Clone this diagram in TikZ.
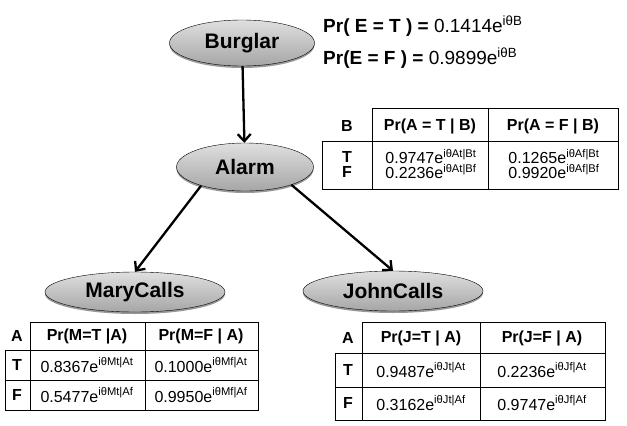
\documentclass[tikz,border=0pt]{standalone}
\usepackage{fontspec}
\setmainfont{Liberation Sans}
\usetikzlibrary{arrows.meta,shapes.geometric,shadows}

\newcommand{\phase}[2]{#1e\textsuperscript{#2}}

\tikzset{
  bnode/.style={ellipse,draw,thin,inner sep=0pt,top color=gray!25,bottom color=gray!70,
    drop shadow={shadow xshift=0pt,shadow yshift=-2pt,fill=black!80},
    font=\fontsize{21}{24}\selectfont\bfseries},
  link/.style={-{Straight Barb[length=7pt,width=13pt]},line width=2.3pt},
  tbl/.style={line width=0.9pt},
  hd/.style={font=\fontsize{16}{19}\selectfont\bfseries},
  val/.style={font=\fontsize{16}{19}\selectfont},
}

\begin{document}
\begin{tikzpicture}[x=1pt,y=-1pt]
  \useasboundingbox (0,0) rectangle (627,426);

  % network
  \node[bnode,minimum width=145,minimum height=46] (burglar) at (242,43) {Burglar};
  \node[bnode,minimum width=137,minimum height=48] (alarm) at (245,167) {Alarm};
  \node[bnode,minimum width=180,minimum height=40] (mary) at (135,292) {MaryCalls};
  \node[bnode,minimum width=180,minimum height=40] (john) at (393,291) {JohnCalls};

  \draw[link] (burglar) -- (alarm);
  \draw[link] (alarm.203) -- (mary.north);
  \draw[link] (alarm.339) -- (john.north);

  % prior of Burglar
  \node[anchor=base west,inner sep=0pt,font=\fontsize{19}{23}\selectfont] (pe-t) at (323,32)
    {\textbf{Pr( E = T ) =} \phase{0.1414}{iθB}};
  \node[anchor=base west,inner sep=0pt,font=\fontsize{19}{23}\selectfont] (pe-f) at (323,64)
    {\textbf{Pr(E = F ) =} \phase{0.9899}{iθB}};

  % Alarm table
  \draw[tbl] (372,108) -- (618,108) -- (618,189) -- (322,189) -- (322,141) -- (618,141);
  \draw[tbl] (372,108) -- (372,189);
  \draw[tbl] (488,108) -- (488,189);
  \node[hd] (a-b) at (347,126) {B};
  \node[hd] (a-h1) at (430,126) {Pr(A = T | B)};
  \node[hd] (a-h2) at (553,126) {Pr(A = F | B)};
  \node[hd,align=center,font=\fontsize{16}{15}\selectfont\bfseries] (a-tf) at (347,164) {T\\F};
  \node[val,align=center,font=\fontsize{16}{15}\selectfont] (a-c1) at (431,164)
    {\phase{0.9747}{iθAt|Bt}\\\phase{0.2236}{iθAt|Bf}};
  \node[val,align=center,font=\fontsize{16}{15}\selectfont] (a-c2) at (554,164)
    {\phase{0.1265}{iθAf|Bt}\\\phase{0.9920}{iθAf|Bf}};

  % MaryCalls table
  \draw[tbl] (30,322) -- (258,322) -- (258,410) -- (5,410) -- (5,350) -- (258,350);
  \draw[tbl] (5,380) -- (258,380);
  \draw[tbl] (30,322) -- (30,410);
  \draw[tbl] (145,322) -- (145,410);
  \node[hd] (m-a) at (17,336) {A};
  \node[hd] (m-h1) at (87,336) {Pr(M=T |A)};
  \node[hd] (m-h2) at (201,336) {Pr(M=F | A)};
  \node[hd] (m-t) at (17,365) {T};
  \node[val] (m-tt) at (87,365) {\phase{0.8367}{iθMt|At}};
  \node[val] (m-ft) at (201,365) {\phase{0.1000}{iθMf|At}};
  \node[hd] (m-f) at (17,395) {F};
  \node[val] (m-tf) at (87,395) {\phase{0.5477}{iθMt|Af}};
  \node[val] (m-ff) at (201,395) {\phase{0.9950}{iθMf|Af}};

  % JohnCalls table
  \draw[tbl] (362,322) -- (605,322) -- (605,420) -- (335,420) -- (335,353) -- (605,353);
  \draw[tbl] (335,387) -- (605,387);
  \draw[tbl] (362,322) -- (362,420);
  \draw[tbl] (480,322) -- (480,420);
  \node[hd] (j-a) at (348,338) {A};
  \node[hd] (j-h1) at (421,338) {Pr(J=T | A)};
  \node[hd] (j-h2) at (542,338) {Pr(J=F | A)};
  \node[hd] (j-t) at (348,370) {T};
  \node[val] (j-tt) at (421,370) {\phase{0.9487}{iθJt|At}};
  \node[val] (j-ft) at (542,370) {\phase{0.2236}{iθJf|At}};
  \node[hd] (j-f) at (348,403) {F};
  \node[val] (j-tf) at (421,403) {\phase{0.3162}{iθJt|Af}};
  \node[val] (j-ff) at (542,403) {\phase{0.9747}{iθJf|Af}};
\end{tikzpicture}
\end{document}
